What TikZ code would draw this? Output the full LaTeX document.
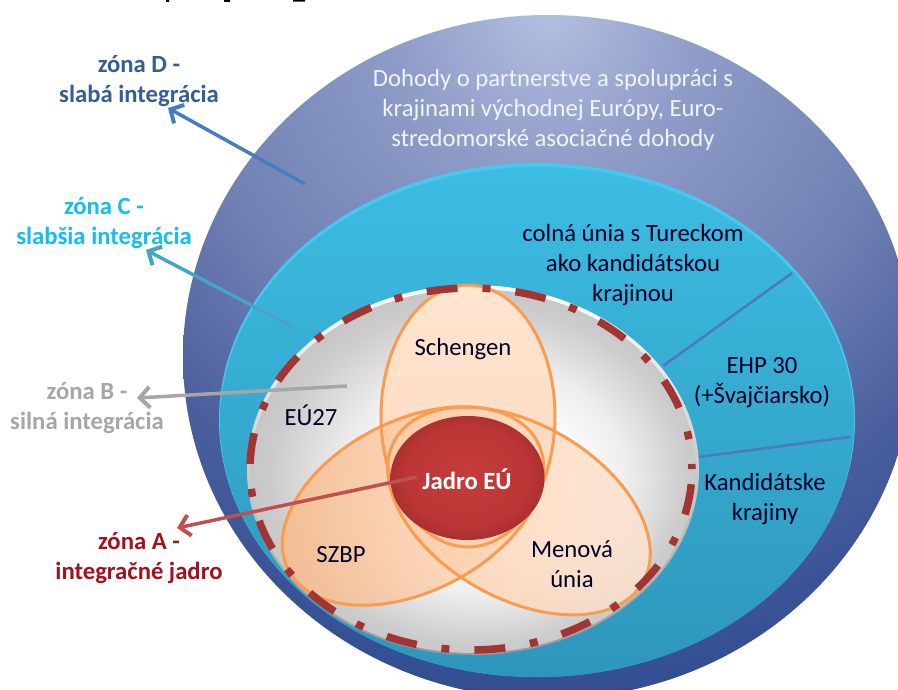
\documentclass[tikz,border=0pt]{standalone}
\usepackage{fontspec}
\setmainfont{Carlito}
\usetikzlibrary{shapes.geometric,arrows.meta}
\definecolor{zoneD}{HTML}{365F91}
\definecolor{zoneC}{HTML}{17BDEE}
\definecolor{zoneB}{HTML}{A6A6A6}
\definecolor{zoneA}{HTML}{A5101E}
\definecolor{dashred}{HTML}{A33434}
\definecolor{ringorange}{HTML}{F79C50}
\definecolor{oa}{HTML}{B3BFE0}\definecolor{ob}{HTML}{8E9CC8}\definecolor{oc}{HTML}{6F80B3}
\definecolor{od}{HTML}{4A5E9D}\definecolor{oe}{HTML}{2F4B91}\definecolor{of}{HTML}{23408C}
\definecolor{ga}{HTML}{FFFFFF}\definecolor{gb}{HTML}{EDEDED}\definecolor{gc}{HTML}{CDCDCD}
\definecolor{gd}{HTML}{BBBBBB}
\definecolor{ra}{HTML}{C43C3C}\definecolor{rb}{HTML}{BC3636}\definecolor{rc}{HTML}{A82E2E}
\definecolor{rd}{HTML}{802222}\definecolor{re}{HTML}{641A1A}
\definecolor{cyrim}{HTML}{48C8EC}\definecolor{cyt}{HTML}{3CBDE4}\definecolor{cym}{HTML}{3AB6DE}\definecolor{cyb}{HTML}{2E96BA}
\definecolor{sa}{HTML}{FFE4D0}\definecolor{sb}{HTML}{FDDABC}
\definecolor{za}{HTML}{FCB884}\definecolor{zb}{HTML}{FDDCC4}
\definecolor{ma}{HTML}{FCCBA2}\definecolor{mb}{HTML}{FFE4D2}
\definecolor{arD}{HTML}{467DBE}\definecolor{arC}{HTML}{46A5C6}\definecolor{arA}{HTML}{C05050}
\definecolor{divc}{HTML}{4F78BE}\definecolor{dohc}{HTML}{F0F3F8}
\pgfdeclareradialshading{outerglow}{\pgfpoint{0bp}{0bp}}{%
 color(0bp)=(oa);color(5.5bp)=(ob);color(13bp)=(oc);color(19bp)=(od);color(25bp)=(oe);color(31bp)=(of)}
\pgfdeclareradialshading{greyglow}{\pgfpoint{3bp}{-2.5bp}}{%
 color(0bp)=(ga);color(9bp)=(ga);color(16bp)=(gb);color(23bp)=(gc);color(30bp)=(gd)}
\pgfdeclareradialshading{coreglow}{\pgfpoint{0bp}{2.4bp}}{%
 color(0bp)=(ra);color(20bp)=(rb);color(26bp)=(rc);color(29bp)=(rd);color(31bp)=(re)}
\tikzset{
 x=1pt,y=-1pt,
 shape ell/.style={ellipse,inner sep=0pt,outer sep=0pt,minimum width=#1},
 lens fill/.style={fill opacity=.8,draw=none},
 lens line/.style={draw=ringorange,line width=3pt,fill=none},
 txt/.style={align=center,inner sep=0pt,font=\fontsize{24.7}{30}\selectfont},
 darktxt/.style={txt,text=black!85!blue},
 zonetxt/.style={txt,font=\fontsize{24.7}{30}\selectfont\bfseries},
 pointer/.style={line width=3.5pt,-{Straight Barb[length=10pt,width=21pt,line width=4pt]}},
 divider/.style={line width=2.5pt,draw=divc}
}
\begin{document}
\begin{tikzpicture}
\path[use as bounding box,clip] (0,0) rectangle (898,690);
\fill[white] (0,0) rectangle (898,690);
% clipped remains of a title line
\fill[black] (166,0) rectangle (169,2) (224,0) rectangle (230,1.8) (293,0) rectangle (305,1.6);
% zones
\begin{scope}
\clip (548,357) ellipse [x radius=365,y radius=342];
\shade[shading=outerglow] (-152,-685) rectangle (1248,715);
\end{scope}
\node[shape ell=636pt,minimum height=514pt,fill=cyrim] (cyanrim) at (537,420) {};
\node[shape ell=634pt,minimum height=510pt,top color=cyt,middle color=cym,bottom color=cyb] (cyanzone) at (537,422) {};
\node[shape ell=452pt,minimum height=370pt,top color=white,bottom color=black!40] (greyrim) at (473,470) {};
\node[shape ell=446pt,minimum height=364pt,shading=greyglow] (greyzone) at (473,471) {};
% lenses
\node[shape ell=174pt,minimum height=262pt,top color=sa,bottom color=sb] (schengen) at (468,416) {};
\node[shape ell=280pt,minimum height=171pt,rotate=27,lens fill,left color=za,right color=zb] (szbp) at (413,506) {};
\node[shape ell=286pt,minimum height=174pt,rotate=-30,lens fill,left color=ma,right color=mb] (menova) at (519,511) {};
\node[shape ell=174pt,minimum height=262pt,lens line] at (schengen) {};
\node[shape ell=280pt,minimum height=171pt,rotate=27,lens line] at (szbp) {};
\node[shape ell=286pt,minimum height=174pt,rotate=-30,lens line] at (menova) {};
% dashed boundary of EU27
\node[shape ell=442pt,minimum height=362pt,draw=dashred,line width=7.5pt,
      dash pattern=on 31pt off 25pt on 8pt off 25pt,dash phase=26pt] (eu27ring) at (471,469) {};
% core
\node[shape ell=154pt,minimum height=124pt,shading=coreglow] (core) at (467.5,478) {};
% anchors for connectors
\coordinate (dStart) at (305,184); \coordinate (dEnd) at (168,108);
\coordinate (cStart) at (293,327); \coordinate (cEnd) at (146,250);
\coordinate (bStart) at (347,386); \coordinate (bEnd) at (137,398);
\coordinate (aStart) at (417,477); \coordinate (aEnd) at (177,528);
\coordinate (t1) at (792,273); \coordinate (t2) at (663,366);
\coordinate (e1) at (850,437); \coordinate (e2) at (699,457);
\draw[pointer,draw=arD] (dStart) -- (dEnd);
\draw[pointer,draw=arC] (cStart) -- (cEnd);
\draw[pointer,draw=black!35] (bStart) -- (bEnd);
\draw[pointer,draw=arA] (aStart) -- (aEnd);
\draw[divider] (t1) -- (t2);
\draw[divider] (e1) -- (e2);
% labels
\node[zonetxt,text=zoneD] (labD) at (139,81) {zóna D -\\slabá integrácia};
\node[zonetxt,text=zoneC] (labC) at (104,223) {zóna C -\\slabšia integrácia};
\node[zonetxt,text=zoneB] (labB) at (87,408) {zóna B -\\silná integrácia};
\node[zonetxt,text=zoneA] (labA) at (139,558) {zóna A -\\integračné jadro};
\node[txt,text=dohc] (dohody) at (553,110) {Dohody o partnerstve a spolupráci s\\krajinami východnej Európy, Euro-\\stredomorské asociačné dohody};
\node[darktxt] (colna) at (633,265) {colná únia s Tureckom\\ako kandidátskou\\krajinou};
\node[darktxt] (ehp) at (762,383) {EHP 30\\(+Švajčiarsko)};
\node[darktxt] (kand) at (765,499) {Kandidátske\\krajiny};
\node[darktxt] (schtxt) at (463,349) {Schengen};
\node[darktxt] (eutxt) at (311,415) {EÚ27};
\node[darktxt] (szbptxt) at (341,555) {SZBP};
\node[darktxt] (mentxt) at (572,564) {Menová\\únia};
\node[zonetxt,text=white] (jadro) at (467,479) {Jadro EÚ};
\end{tikzpicture}
\end{document}
